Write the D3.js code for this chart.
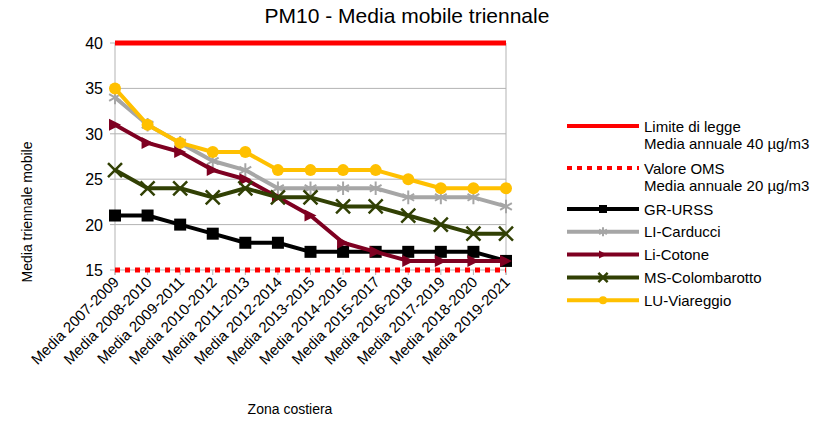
<!DOCTYPE html>
<html>
<head>
<meta charset="utf-8">
<script src="https://cdn.jsdelivr.net/npm/d3@7"></script>
<style>
  body { margin: 0; background: #fff; }
  text { font-family: "Liberation Sans", Arial, sans-serif; fill: #000; }
</style>
</head>
<body>
<div id="chart-area"></div>
<script>
// periodi (asse x)
const categories = ["Media 2007-2009", "Media 2008-2010", "Media 2009-2011", "Media 2010-2012",
  "Media 2011-2013", "Media 2012-2014", "Media 2013-2015", "Media 2014-2016", "Media 2015-2017",
  "Media 2016-2018", "Media 2017-2019", "Media 2018-2020", "Media 2019-2021"];

const yTicks = [15, 20, 25, 30, 35, 40];

// valori
const grUrss = [21, 21, 20, 19, 18, 18, 17, 17, 17, 17, 17, 17, 16];
const liCarducci = [34, 31, 29, 27, 26, 24, 24, 24, 24, 23, 23, 23, 22];
const liCotone = [31, 29, 28, 26, 25, 23, 21, 18, 17, 16, 16, 16, 16];
const msColombarotto = [26, 24, 24, 23, 24, 23, 23, 22, 22, 21, 20, 19, 19];
const luViareggio = [35, 31, 29, 28, 28, 26, 26, 26, 26, 25, 24, 24, 24];

const limiteLegge = 40;
const valoreOms = 15;

const series = [
  { name: "GR-URSS", values: grUrss, color: "#000000", marker: "square" },
  { name: "LI-Carducci", values: liCarducci, color: "#a6a6a6", marker: "asterisk" },
  { name: "Li-Cotone", values: liCotone, color: "#7e0021", marker: "triangle" },
  { name: "MS-Colombarotto", values: msColombarotto, color: "#314004", marker: "x" },
  { name: "LU-Viareggio", values: luViareggio, color: "#ffc000", marker: "circle" }
];

const svg = d3.select("#chart-area")
  .append("svg")
  .attr("width", 836)
  .attr("height", 425);

const x = d3.scalePoint()
  .domain(categories)
  .range([115, 506]);

const y = d3.scaleLinear()
  .domain([15, 40])
  .range([270, 43]);

// griglia orizzontale
svg.append("g")
  .selectAll("line")
  .data(yTicks)
  .enter()
  .append("line")
  .attr("x1", 110)
  .attr("x2", 506)
  .attr("y1", d => y(d))
  .attr("y2", d => y(d))
  .attr("stroke", "#b3b3b3")
  .attr("stroke-width", 1);

// bordo sinistro e destro
svg.append("line")
  .attr("x1", 115).attr("x2", 115)
  .attr("y1", y(40)).attr("y2", y(15) + 5)
  .attr("stroke", "#b3b3b3");
svg.append("line")
  .attr("x1", 506).attr("x2", 506)
  .attr("y1", y(40)).attr("y2", y(15) + 5)
  .attr("stroke", "#b3b3b3");

// tacche asse x
svg.append("g")
  .selectAll("line")
  .data(categories)
  .enter()
  .append("line")
  .attr("x1", d => x(d))
  .attr("x2", d => x(d))
  .attr("y1", y(15))
  .attr("y2", y(15) + 5)
  .attr("stroke", "#b3b3b3");

// etichette asse y
svg.append("g")
  .selectAll("text")
  .data(yTicks)
  .enter()
  .append("text")
  .attr("x", 103)
  .attr("y", d => y(d) + 6)
  .attr("text-anchor", "end")
  .attr("font-size", 16)
  .text(d => d);

// etichette asse x (ruotate)
svg.append("g")
  .selectAll("text")
  .data(categories)
  .enter()
  .append("text")
  .attr("transform", d => "translate(" + (x(d) + 5) + "," + (y(15) + 13) + ") rotate(-45)")
  .attr("text-anchor", "end")
  .attr("font-size", 15)
  .text(d => d);

// titolo e assi
svg.append("text")
  .attr("x", 407)
  .attr("y", 23)
  .attr("text-anchor", "middle")
  .attr("font-size", 21)
  .text("PM10 - Media mobile triennale");

svg.append("text")
  .attr("transform", "translate(32,212) rotate(-90)")
  .attr("text-anchor", "middle")
  .attr("font-size", 14)
  .text("Media triennale mobile");

svg.append("text")
  .attr("x", 290)
  .attr("y", 414)
  .attr("text-anchor", "middle")
  .attr("font-size", 14)
  .text("Zona costiera");

// linee di riferimento
svg.append("line")
  .attr("x1", x(categories[0]))
  .attr("x2", x(categories[categories.length - 1]))
  .attr("y1", y(limiteLegge))
  .attr("y2", y(limiteLegge))
  .attr("stroke", "#ff0000")
  .attr("stroke-width", 5);

svg.append("line")
  .attr("x1", x(categories[0]))
  .attr("x2", x(categories[categories.length - 1]))
  .attr("y1", y(valoreOms))
  .attr("y2", y(valoreOms))
  .attr("stroke", "#ff0000")
  .attr("stroke-width", 5)
  .attr("stroke-dasharray", "5,5");

// marcatori
function drawMarker(g, type, color, s) {
  if (type === "square") {
    g.append("rect").attr("x", -s / 2).attr("y", -s / 2).attr("width", s).attr("height", s).attr("fill", color);
  } else if (type === "circle") {
    g.append("circle").attr("r", s / 2).attr("fill", color);
  } else if (type === "triangle") {
    g.append("path").attr("d", "M" + (-s / 2) + "," + (-s / 2) + "L" + (s / 2) + ",0L" + (-s / 2) + "," + (s / 2) + "Z").attr("fill", color);
  } else if (type === "x") {
    g.append("path").attr("d", d3.symbol(d3.symbolTimes, s * s * 0.9)()).attr("stroke", color).attr("stroke-width", 2.5).attr("fill", "none");
  } else if (type === "asterisk") {
    g.append("path").attr("d", d3.symbol(d3.symbolAsterisk, s * s * 0.9)()).attr("stroke", color).attr("stroke-width", 2).attr("fill", "none");
  }
}

const line = d3.line()
  .x((d, i) => x(categories[i]))
  .y(d => y(d));

series.forEach(s => {
  svg.append("path")
    .datum(s.values)
    .attr("d", line)
    .attr("fill", "none")
    .attr("stroke", s.color)
    .attr("stroke-width", 4)
    .attr("stroke-linejoin", "round");

  s.values.forEach((v, i) => {
    const g = svg.append("g").attr("transform", "translate(" + x(categories[i]) + "," + y(v) + ")");
    drawMarker(g, s.marker, s.color, 12);
  });
});

// legenda
const legendRows = [
  { lines: ["Limite di legge", "Media annuale 40 µg/m3"], color: "#ff0000", dash: null, marker: null, y: 126 },
  { lines: ["Valore OMS", "Media annuale 20 µg/m3"], color: "#ff0000", dash: "5,5", marker: null, y: 168 }
];
series.forEach((s, i) => {
  legendRows.push({ lines: [s.name], color: s.color, dash: null, marker: s.marker, y: 209 + i * 22.8 });
});

legendRows.forEach(r => {
  svg.append("line")
    .attr("x1", 567).attr("x2", 639)
    .attr("y1", r.y).attr("y2", r.y)
    .attr("stroke", r.color)
    .attr("stroke-width", 4)
    .attr("stroke-dasharray", r.dash);
  if (r.marker) {
    const g = svg.append("g").attr("transform", "translate(603," + r.y + ")");
    drawMarker(g, r.marker, r.color, 8);
  }
  r.lines.forEach((t, j) => {
    svg.append("text")
      .attr("x", 644)
      .attr("y", r.y + 5.5 + j * 17.5)
      .attr("font-size", 15)
      .text(t);
  });
});
</script>
</body>
</html>
